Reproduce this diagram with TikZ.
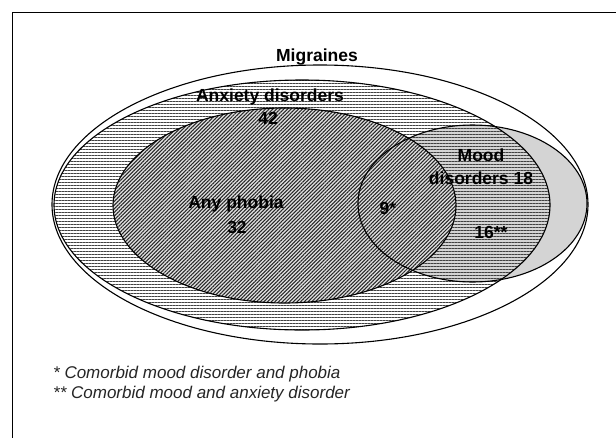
\documentclass[tikz,border=0pt]{standalone}
\usepackage{fontspec}
\setmainfont{Liberation Sans}
\usetikzlibrary{patterns.meta}
\definecolor{moodgray}{RGB}{212,212,212}
\tikzset{
  outline/.style={draw=black, line width=1.1pt},
  lbl/.style={font=\fontsize{17.5}{19}\selectfont\bfseries, inner sep=0pt, align=center},
  note/.style={font=\fontsize{17}{19}\selectfont\itshape, inner sep=0pt, anchor=west, text=black!85},
  hstripes/.style={pattern={Lines[angle=0, distance=3pt, line width=0.75pt]}, pattern color=black!75},
  dstripes/.style={pattern={Lines[angle=45, distance=2.6pt, line width=1.05pt]}, pattern color=black!85}
}
\begin{document}
\begin{tikzpicture}[x=1pt, y=-1pt]
\useasboundingbox (0,0) rectangle (616,437);
\fill[white] (0,0) rectangle (616,437);
% frame (left and top visible)
\draw[line width=1pt] (12.5,440) -- (12.5,12.5) -- (620,12.5);
% mood disorders fill
\fill[moodgray] (472.5,203.5) ellipse [x radius=114.5, y radius=78.5];
% anxiety stripes
\fill[hstripes] (302,205) ellipse [x radius=248, y radius=125];
% phobia
\fill[black!12] (284.5,205.5) ellipse [x radius=171.5, y radius=97.5];
\fill[dstripes] (284.5,205.5) ellipse [x radius=171.5, y radius=97.5];
% outlines
\draw[outline] (320,204.5) ellipse [x radius=268, y radius=139.5];
\draw[outline] (302,205) ellipse [x radius=248, y radius=125];
\draw[outline] (284.5,205.5) ellipse [x radius=171.5, y radius=97.5];
\draw[outline] (472.5,203.5) ellipse [x radius=114.5, y radius=78.5];
% labels
\node[lbl] (mig) at (317,57) {Migraines};
\node[lbl] (anx) at (270,97) {Anxiety disorders};
\node[lbl] (anxn) at (268,118) {42};
\node[lbl] (pho) at (236,204) {Any phobia};
\node[lbl] (phon) at (237,227) {32};
\node[lbl] (nine) at (388,208) {9*};
\node[lbl] (moo) at (481,155) {Mood};
\node[lbl] (moon) at (481,178) {disorders 18};
\node[lbl] (sixt) at (491,232) {16**};
\node[note] (n1) at (53,374) {* Comorbid mood disorder and phobia};
\node[note] (n2) at (53,394) {** Comorbid mood and anxiety disorder};
\end{tikzpicture}
\end{document}
